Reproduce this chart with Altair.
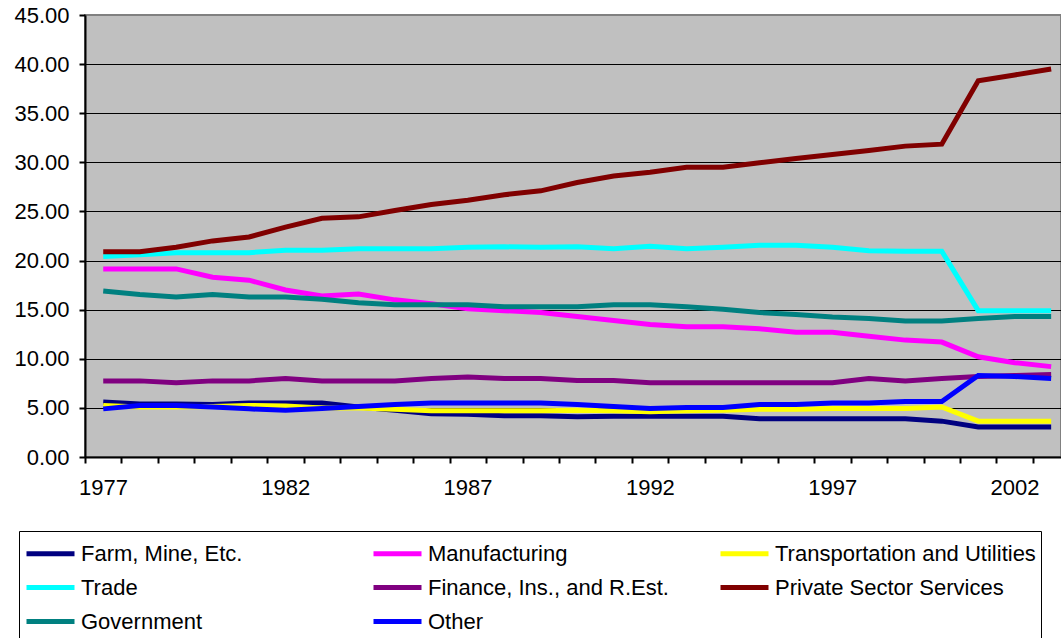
import altair as alt
import pandas as pd

years = list(range(1977, 2004))

series_names = [
    "Farm, Mine, Etc.", "Manufacturing", "Transportation and Utilities",
    "Trade", "Finance, Ins., and R.Est.", "Private Sector Services",
    "Government", "Other",
]
series_colors = ["#000080", "#FF00FF", "#FFFF00", "#00FFFF", "#800080", "#800000", "#008080", "#0000FF"]

farm = [5.6, 5.4, 5.4, 5.35, 5.5, 5.5, 5.5, 5.1, 4.75, 4.4, 4.35, 4.2, 4.2, 4.1, 4.15, 4.15, 4.15, 4.15,
        3.9, 3.9, 3.9, 3.9, 3.9, 3.65, 3.05, 3.05, 3.05]
manufacturing = [19.15, 19.15, 19.15, 18.3, 18.0, 17.0, 16.4, 16.6, 16.0, 15.6, 15.1, 14.9, 14.7, 14.3,
                 13.9, 13.5, 13.25, 13.25, 13.05, 12.7, 12.7, 12.3, 11.9, 11.7, 10.2, 9.6, 9.2]
transport = [5.25, 5.1, 5.1, 5.15, 5.25, 5.2, 5.0, 5.0, 4.85, 4.7, 4.7, 4.7, 4.7, 4.75, 4.7, 4.6, 4.7, 4.75,
             4.85, 4.85, 4.95, 4.95, 4.95, 5.1, 3.65, 3.65, 3.65]
trade = [20.4, 20.6, 20.8, 20.8, 20.8, 21.05, 21.05, 21.2, 21.2, 21.2, 21.35, 21.4, 21.35, 21.4, 21.2,
         21.45, 21.2, 21.35, 21.55, 21.55, 21.35, 21.0, 20.95, 20.95, 14.9, 14.9, 14.9]
finance = [7.75, 7.75, 7.55, 7.75, 7.75, 8.0, 7.75, 7.75, 7.75, 8.0, 8.15, 8.0, 8.0, 7.8, 7.8, 7.55, 7.55,
           7.55, 7.55, 7.55, 7.55, 8.0, 7.75, 8.0, 8.2, 8.3, 8.4]
private = [20.9, 20.9, 21.35, 22.0, 22.4, 23.4, 24.3, 24.45, 25.1, 25.7, 26.15, 26.7, 27.1, 27.95, 28.6,
           29.0, 29.5, 29.5, 29.95, 30.4, 30.8, 31.2, 31.65, 31.85, 38.3, 38.9, 39.5]
government = [16.9, 16.55, 16.3, 16.55, 16.3, 16.3, 16.05, 15.7, 15.5, 15.5, 15.5, 15.3, 15.3, 15.3, 15.5,
              15.5, 15.3, 15.05, 14.7, 14.5, 14.25, 14.1, 13.85, 13.85, 14.1, 14.3, 14.3]
other = [4.9, 5.25, 5.25, 5.1, 4.9, 4.75, 4.95, 5.15, 5.35, 5.5, 5.5, 5.5, 5.5, 5.35, 5.15, 4.95, 5.05,
         5.05, 5.35, 5.35, 5.5, 5.5, 5.65, 5.65, 8.3, 8.2, 8.0]

y_ticks = [0, 5, 10, 15, 20, 25, 30, 35, 40, 45]
x_ticks = [y - 0.5 for y in years]

all_series = [farm, manufacturing, transport, trade, finance, private, government, other]
rows = []
for name, vals in zip(series_names, all_series):
    for yr, v in zip(years, vals):
        rows.append({"Year": yr, "Value": v, "Series": name})
df = pd.DataFrame(rows)

FONT = "Liberation Sans"

chart = alt.Chart(df).mark_line(strokeWidth=5, clip=True).encode(
    x=alt.X(
        "Year:Q",
        scale=alt.Scale(domain=[1976.5, 2003.27], nice=False, zero=False),
        axis=alt.Axis(
            values=x_ticks,
            title=None,
            grid=False,
            labelExpr="(datum.value + 0.5) % 5 == 2 ? toString(datum.value + 0.5) : ''",
            labelOffset=18,
            labelFlush=False,
            labelOverlap=False,
            labelFontSize=22,
            labelFont=FONT,
            labelColor="black",
            labelPadding=14,
            tickSize=6,
            tickColor="black",
            tickWidth=2,
            domainColor="black",
            domainWidth=2,
        ),
    ),
    y=alt.Y(
        "Value:Q",
        scale=alt.Scale(domain=[0, 45], nice=False),
        axis=alt.Axis(
            values=y_ticks,
            format=".2f",
            title=None,
            grid=True,
            gridColor={"condition": {"test": "datum.value == 45", "value": "#808080"}, "value": "black"},
            gridWidth=1,
            labelFontSize=22,
            labelFont=FONT,
            labelColor="black",
            labelPadding=10,
            tickSize=6,
            tickColor="black",
            tickWidth=2,
            domainColor="black",
            domainWidth=2,
        ),
    ),
    color=alt.Color(
        "Series:N",
        sort=series_names,
        scale=alt.Scale(domain=series_names, range=series_colors),
        legend=alt.Legend(
            title=None,
            orient="none",
            direction="horizontal",
            legendX=-66,
            legendY=516,
            columns=3,
            gridAlign="all",
            columnPadding=21,
            rowPadding=5,
            padding=5,
            strokeColor="black",
            symbolType="M-1,0H2.2",
            symbolSize=900,
            symbolStrokeWidth=5,
            labelOffset=22,
            labelFontSize=22,
            labelFont=FONT,
            labelColor="black",
            labelLimit=400,
        ),
    ),
).properties(
    width=976,
    height=442,
    autosize=alt.AutoSizeParams(type="none"),
    padding={"left": 85, "top": 15, "right": 0, "bottom": 181},
).configure(
    background="white",
    font=FONT,
).configure_view(
    fill="#C0C0C0",
    stroke="#808080",
    strokeWidth=2,
)

chart.save("out.html", embed_options={"renderer": "svg", "actions": False})
